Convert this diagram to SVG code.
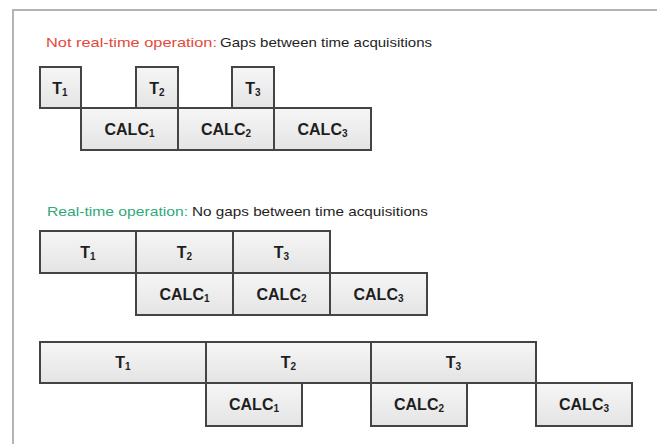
<svg xmlns="http://www.w3.org/2000/svg" width="657" height="444" viewBox="0 0 657 444">
  <defs>
    <linearGradient id="boxFill" x1="0" y1="0" x2="0" y2="1">
      <stop offset="0" stop-color="#f6f6f6"/>
      <stop offset="1" stop-color="#e4e4e4"/>
    </linearGradient>
  </defs>
  <style>
    .frame { fill: none; stroke: #b4b4b4; stroke-width: 2; }
    .box { fill: url(#boxFill); stroke: #444444; stroke-width: 2; }
    .lbl { font-family: "Liberation Sans", Arial, sans-serif; font-weight: bold; font-size: 16px; fill: #1e1e1e; text-anchor: middle; }
    .sub { font-size: 10px; }
    .title { font-family: "Liberation Sans", Arial, sans-serif; font-size: 13px; }
    .red { fill: #e5483a; }
    .green { fill: #2faa78; }
    .black { fill: #1e1e1e; }
  </style>

  <rect width="657" height="444" fill="#ffffff"/>
  <!-- outer frame: top and left edges -->
  <path class="frame" d="M13 444 V10 H657"/>

  <!-- section 1: not real-time -->
  <text class="title" y="47"><tspan class="red" x="46" textLength="171" lengthAdjust="spacingAndGlyphs">Not real-time operation:</tspan><tspan class="black" x="220" textLength="212" lengthAdjust="spacingAndGlyphs">Gaps between time acquisitions</tspan></text>

  <g id="s1-t1"><rect class="box" x="40" y="67" width="41" height="41"/><text class="lbl" x="60" y="94">T<tspan class="sub" dy="2">1</tspan></text></g>
  <g id="s1-t2"><rect class="box" x="136" y="67" width="42" height="41"/><text class="lbl" x="157" y="94">T<tspan class="sub" dy="2">2</tspan></text></g>
  <g id="s1-t3"><rect class="box" x="232" y="67" width="42" height="41"/><text class="lbl" x="253" y="94">T<tspan class="sub" dy="2">3</tspan></text></g>
  <g id="s1-calc1"><rect class="box" x="81" y="108" width="97" height="42"/><text class="lbl" x="129.500" y="135">CALC<tspan class="sub" dy="2">1</tspan></text></g>
  <g id="s1-calc2"><rect class="box" x="178" y="108" width="96" height="42"/><text class="lbl" x="226" y="135">CALC<tspan class="sub" dy="2">2</tspan></text></g>
  <g id="s1-calc3"><rect class="box" x="274" y="108" width="97" height="42"/><text class="lbl" x="322.500" y="135">CALC<tspan class="sub" dy="2">3</tspan></text></g>

  <!-- section 2: real-time, equal durations -->
  <text class="title" y="216"><tspan class="green" x="47" textLength="141" lengthAdjust="spacingAndGlyphs">Real-time operation:</tspan><tspan class="black" x="192" textLength="236" lengthAdjust="spacingAndGlyphs">No gaps between time acquisitions</tspan></text>

  <g id="s2-t1"><rect class="box" x="40" y="231" width="96" height="42"/><text class="lbl" x="88" y="258">T<tspan class="sub" dy="2">1</tspan></text></g>
  <g id="s2-t2"><rect class="box" x="136" y="231" width="97" height="42"/><text class="lbl" x="184.500" y="258">T<tspan class="sub" dy="2">2</tspan></text></g>
  <g id="s2-t3"><rect class="box" x="233" y="231" width="97" height="42"/><text class="lbl" x="281.500" y="258">T<tspan class="sub" dy="2">3</tspan></text></g>
  <g id="s2-calc1"><rect class="box" x="136" y="273" width="97" height="42"/><text class="lbl" x="184.500" y="300">CALC<tspan class="sub" dy="2">1</tspan></text></g>
  <g id="s2-calc2"><rect class="box" x="233" y="273" width="97" height="42"/><text class="lbl" x="281.500" y="300">CALC<tspan class="sub" dy="2">2</tspan></text></g>
  <g id="s2-calc3"><rect class="box" x="330" y="273" width="97" height="42"/><text class="lbl" x="378.500" y="300">CALC<tspan class="sub" dy="2">3</tspan></text></g>

  <!-- section 3: real-time, long acquisitions -->
  <g id="s3-t1"><rect class="box" x="40" y="342" width="166" height="41"/><text class="lbl" x="123" y="368">T<tspan class="sub" dy="2">1</tspan></text></g>
  <g id="s3-t2"><rect class="box" x="206" y="342" width="165" height="41"/><text class="lbl" x="288.500" y="368">T<tspan class="sub" dy="2">2</tspan></text></g>
  <g id="s3-t3"><rect class="box" x="371" y="342" width="165" height="41"/><text class="lbl" x="453.500" y="368">T<tspan class="sub" dy="2">3</tspan></text></g>
  <g id="s3-calc1"><rect class="box" x="206" y="383" width="96" height="43"/><text class="lbl" x="254" y="410">CALC<tspan class="sub" dy="2">1</tspan></text></g>
  <g id="s3-calc2"><rect class="box" x="371" y="383" width="96" height="43"/><text class="lbl" x="419" y="410">CALC<tspan class="sub" dy="2">2</tspan></text></g>
  <g id="s3-calc3"><rect class="box" x="536" y="383" width="96" height="43"/><text class="lbl" x="584" y="410">CALC<tspan class="sub" dy="2">3</tspan></text></g>
</svg>
